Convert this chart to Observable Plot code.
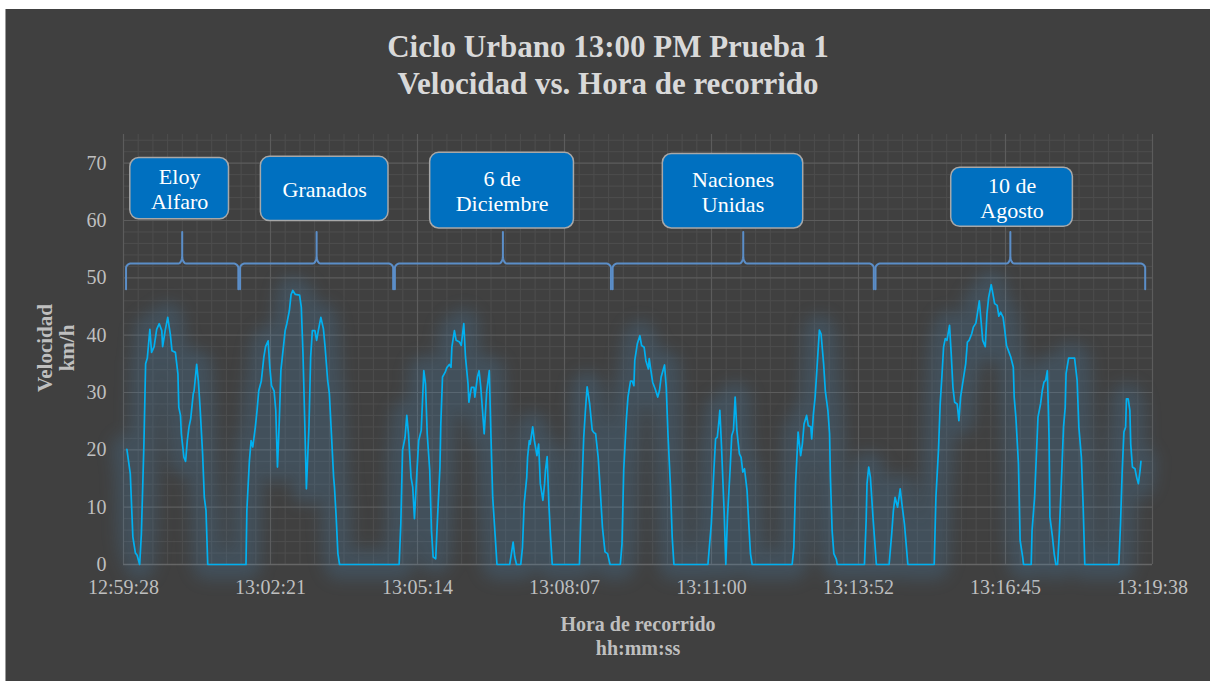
<!DOCTYPE html>
<html><head><meta charset="utf-8">
<script src="https://cdn.jsdelivr.net/npm/d3@7"></script>
<script src="https://cdn.jsdelivr.net/npm/@observablehq/plot@0.6"></script>
<style>
body{margin:0;background:#fff;}
#page{position:relative;width:1210px;height:681px;overflow:hidden;background:#fff;}
#panel{position:absolute;left:5px;top:9px;width:1205px;height:672px;background:#404040;border-left:1px solid #9a9a9a;box-sizing:border-box;}
.t{position:absolute;font-family:"Liberation Serif","Times New Roman",serif;font-weight:bold;text-align:center;white-space:nowrap;}
#title{left:0;width:1216px;top:28px;font-size:31px;line-height:37px;color:#d9d9d9;}
#xtitle{left:538px;width:200px;top:612px;font-size:20px;line-height:24px;color:#bfbfbf;}
#ytitle{left:-4px;top:326px;width:120px;height:44px;font-size:21px;line-height:22px;color:#bfbfbf;transform:rotate(-90deg);}
#chart{position:absolute;left:0;top:120px;}
</style>
</head><body>
<div id="page">
  <div id="panel"></div>
  <div id="title" class="t">Ciclo Urbano 13:00 PM Prueba 1<br>Velocidad vs. Hora de recorrido</div>
  <div id="ytitle" class="t">Velocidad<br>km/h</div>
  <div id="xtitle" class="t">Hora de recorrido<br>hh:mm:ss</div>
  <div id="chart"></div>
</div>
<script>
// ---- Data ----
// elapsed seconds since 12:59:28
const tiempo = [4,8,11,14,16,19,21,24,26,28,31,33,36,39,42,45,46,49,52,55,57,61,64,65,67,68,71,73,75,77,79,82,83,86,88,90,93,95,97,99,144,145,148,150,152,155,157,159,162,165,167,170,172,174,177,179,181,183,185,188,190,192,195,197,199,202,207,209,211,213,215,218,220,222,225,227,229,232,235,237,240,242,244,247,248,250,252,254,324,326,328,331,333,335,338,340,342,345,347,350,353,355,357,360,362,364,367,369,372,373,
375,378,380,383,385,386,389,391,395,397,400,402,405,406,409,412,413,416,418,420,422,424,427,430,432,434,437,439,454,456,458,460,462,467,469,471,474,475,477,478,481,483,486,488,490,493,495,496,498,500,502,504,536,538,541,543,545,548,551,553,555,558,560,563,566,569,572,584,586,588,591,593,596,598,600,601,604,607,609,612,614,617,618,620,622,625,628,630,632,636,638,640,643,645,647,687,689,691,694,696,698,700,701,703,706,708,710,713,715,717,719,721,724,726,728,730,733,735,737,739,
786,788,790,792,793,796,798,800,803,805,808,809,811,813,815,817,818,820,823,825,828,830,831,833,835,838,839,871,873,874,876,878,881,883,885,900,903,905,907,910,913,915,918,920,922,953,955,958,960,962,964,966,968,971,973,975,977,980,982,984,987,990,992,994,997,999,1002,1004,1006,1008,1010,1013,1015,1017,1020,1022,1024,1027,1029,1031,1034,1036,1038,1041,1043,1046,1047,1049,1052,1054,1057,1058,1067,1068,1071,1073,1075,1078,1080,1082,1084,1086,1088,1089,1092,1094,1096,1098,1100,1103,1105,1107,1108,1111,1118,1121,1123,1126,1128,1130,1170,1172,1174,1176,1178,1179,1181,1183,1184,1186,1189,1191,1193,1195,1196];
const velocidad = [20.1,15.8,4.8,2,1.6,0,5.3,21,35,36,41,37,38,41,42,40.8,38,40.8,43.1,40.2,37.3,37,33.2,27.4,26,22.8,18.7,18,21.6,24,25.4,29.8,30.3,34.9,32,27.4,19.3,11.7,9.4,0,0,9.4,18.1,21.6,20.5,24,26.9,30.3,32,36.2,38,39,34.4,31.2,30.3,26.9,17,24.5,33.8,38,40.8,42,44.3,47.1,47.8,47.1,47,44.9,36.7,25.1,13.2,24,36.2,40.8,40.8,39.1,40.8,43.1,41.1,37.9,32.1,29.8,24,15.2,13.5,8.3,1.9,0,0,7.1,19.9,22.2,26,22.8,15.2,13.5,8,16.4,21.6,23.4,33.8,31.5,22.8,16.4,5.9,1.3,1,7.7,17,24.5,
32.7,33.5,34.3,34.9,34.4,37.9,40.8,39.1,38.8,38.2,42,36.2,31.5,28.3,30.9,30.9,29.2,32.7,33.8,30.9,26.9,22.8,30.3,33.8,22.2,11.7,4.8,0,0,1.9,3.9,1.3,0,0,3,10.6,15.2,18.7,21.6,21,24,21.6,19,21,14.1,11.2,14.1,16.4,18.8,10.6,4.8,0,0,10,22.2,26.9,31,28,23.4,23,22.8,18.7,14.1,6.5,2.2,1.9,0,0,3.6,16.4,25.1,29.2,32,32,31.2,35.6,38.5,39.9,38.2,37.9,35.6,34.1,35.9,33.8,31.8,30.6,29.2,30.3,32.7,34.8,30.9,22.8,13.5,4.8,0,0,3.6,7.1,16.4,21.9,22.2,25.1,26.9,20.5,9.4,0,8.3,16.4,22.5,23.4,29.2,23.4,19.3,18.7,16.1,16.7,12.9,7.1,1.9,0,
0,3,14.1,19.9,23.1,19,21,24.5,26,24.2,24,21.9,26.3,29.2,33.8,38.5,40.9,40.2,35,30.3,26.9,22.8,15.2,5.9,1.9,0.9,0,0,7.7,14.1,17,15.2,8.3,4.2,0,0,5.3,9.4,11.7,10,13.2,10.6,7.1,3.6,0,0,11.7,19.9,28,32.7,37.9,39.4,39.1,41.7,36.7,30.9,28.3,28,25.1,29.2,32.1,35,38.8,39.1,40.2,41.4,42.1,44,46,42.6,39.1,38,43.7,46.6,48.8,47.2,45.5,45.2,43.3,44,43.1,40.8,38.2,37,36.2,34.4,29.2,25.7,17.6,4.2,1.3,0,0,5.9,11.7,18.7,25.7,28,30.3,31.8,32.1,33.8,22.2,8.3,4.8,1.9,0,0,5.3,16.4,24,27.4,33.3,36,36,32.1,24,18.7,10.6,0,0,7.1,16.4,23.1,24,28.9,28.9,26.9,21,17,16.7,15.2,14.1,16.4,18];

const etiquetasHora = ["12:59:28","13:02:21","13:05:14","13:08:07","13:11:00","13:13:52","13:16:45","13:19:38"];
const ticksVelocidad = [0,10,20,30,40,50,60,70];

// road sections (avenues) along the route, in elapsed seconds
const avenidas = ["Eloy\nAlfaro","Granados","6 de\nDiciembre","Naciones\nUnidas","10 de\nAgosto"];
const tramoInicio = [3,137,319,575,884];
const tramoFin = [135,317,573,882,1201];

// ---- Layout constants ----
const paso = 172.8;              // major x step (0.002 day)
const xMax = paso * 7;
const cajaDesplazo = [-3, 9.5, -1, -12, 2];   // box centre offset (s)
const cajaAncho = [116, 150, 169, 165, 143];  // box width (s)
const cajaY1 = [60.2, 59.9, 58.6, 58.6, 58.9];
const cajaY2 = [70.9, 71.1, 71.8, 71.6, 69.2];

const datos = tiempo.map((t, i) => ({t, v: velocidad[i]}));

// brace shapes built from the section bounds
const L = 52.5, B = 48, T = 58, erx = 6, ery = 0.8, crx = 4.5, cry = 1.4;
const llaves = [];
const ang = d3.range(0, 91, 10).map(d => d * Math.PI / 180);
tramoInicio.forEach((a, k) => {
  const b = tramoFin[k], m = (a + b) / 2, p = [];
  p.push([a, B]);
  ang.forEach(th => p.push([a + erx - erx * Math.cos(th), L - ery + ery * Math.sin(th)]));
  ang.forEach(th => p.push([m - crx + crx * Math.sin(th), L + cry - cry * Math.cos(th)]));
  p.push([m, T]);
  ang.slice().reverse().forEach(th => p.push([m + crx - crx * Math.sin(th), L + cry - cry * Math.cos(th)]));
  ang.slice().reverse().forEach(th => p.push([b - erx + erx * Math.cos(th), L - ery + ery * Math.sin(th)]));
  p.push([b, B]);
  p.forEach(([x, y]) => llaves.push({k, x, y}));
});

const cajas = avenidas.map((n, k) => {
  const c = (tramoInicio[k] + tramoFin[k]) / 2 + cajaDesplazo[k];
  return {n, c, x1: c - cajaAncho[k] / 2, x2: c + cajaAncho[k] / 2, y1: cajaY1[k], y2: cajaY2[k], ym: (cajaY1[k] + cajaY2[k]) / 2};
});

const xMajor = d3.range(8).map(i => i * paso);
const xMinor = d3.range(71).map(i => i * paso / 10).filter((d, i) => i % 10 !== 0);
const yMinor = d3.range(0, 76, 2).filter(d => d % 10 !== 0);

const plot = Plot.plot({
  width: 1210,
  height: 500,
  marginLeft: 123,
  marginRight: 58,
  marginTop: 14,
  marginBottom: 56,
  style: {background: "transparent", color: "#bfbfbf", fontFamily: "'Liberation Serif', serif", fontSize: "20px", overflow: "visible"},
  x: {domain: [0, xMax], ticks: xMajor, tickFormat: d => etiquetasHora[Math.round(d / paso)], tickSize: 0, tickPadding: 15, label: null},
  y: {domain: [0, 75], ticks: ticksVelocidad, tickSize: 0, tickPadding: 17, label: null},
  marks: [
    Plot.ruleX(xMinor, {stroke: "#4d4d4d", strokeWidth: 1}),
    Plot.ruleY(yMinor, {stroke: "#4d4d4d", strokeWidth: 1}),
    Plot.ruleX(xMajor, {stroke: "#5c5c5c", strokeWidth: 1.2}),
    Plot.ruleY(ticksVelocidad, {stroke: "#5c5c5c", strokeWidth: 1.2}),
    Plot.ruleY([0], {stroke: "#666666", strokeWidth: 1.5}),
    Plot.line(datos, {x: "t", y: "v", stroke: "#4a8fc8", strokeWidth: 30, strokeOpacity: 0.2, strokeLinejoin: "round", strokeLinecap: "round"}),
    Plot.line(datos, {x: "t", y: "v", stroke: "#00b0f0", strokeWidth: 1.7}),
    Plot.line(llaves, {x: "x", y: "y", z: "k", stroke: "#5b8ec8", strokeWidth: 2}),
    Plot.rect(cajas, {x1: "x1", x2: "x2", y1: "y1", y2: "y2", rx: 9, fill: "#0070c0", stroke: "#a8a8a8", strokeWidth: 1.5}),
    Plot.text(cajas, {x: "c", y: "ym", text: "n", fill: "#ffffff", fontSize: 22, lineHeight: 1.15, fontFamily: "'Liberation Serif', serif"})
  ]
});
document.getElementById("chart").appendChild(plot);
const glow = plot.querySelector('g[aria-label="line"]');
if (glow) glow.style.filter = "blur(8px)";
</script>
</body></html>
